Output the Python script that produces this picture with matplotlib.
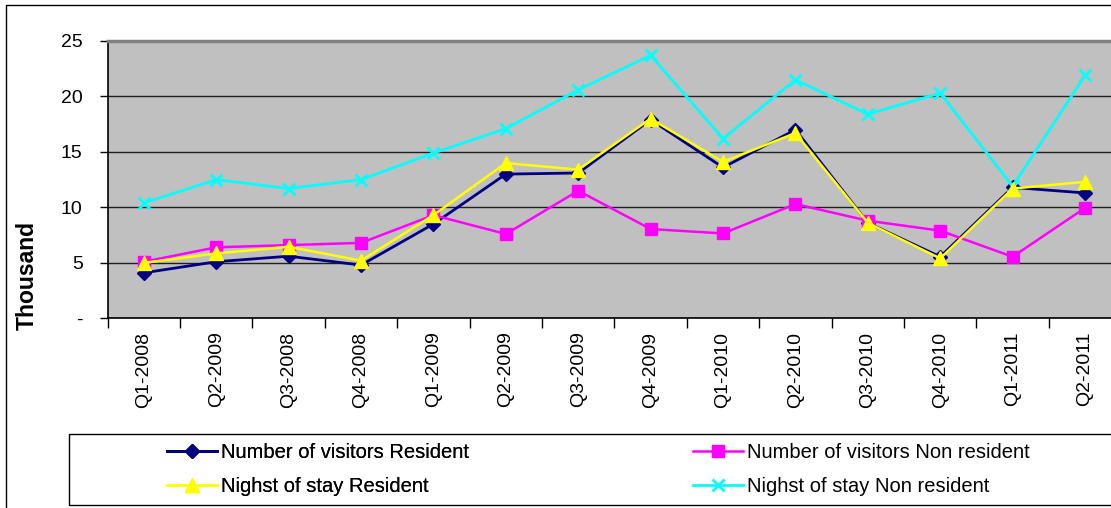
import matplotlib
matplotlib.use('Agg')
import matplotlib.pyplot as plt
from matplotlib.patches import Rectangle
import numpy as np

plt.rcParams['font.family'] = ['Liberation Sans', 'DejaVu Sans']

quarters = ['Q1-2008', 'Q2-2009', 'Q3-2008', 'Q4-2008', 'Q1-2009', 'Q2-2009', 'Q3-2009',
            'Q4-2009', 'Q1-2010', 'Q2-2010', 'Q3-2010', 'Q4-2010', 'Q1-2011', 'Q2-2011']

visitors_resident = [4.1, 5.1, 5.6, 4.8, 8.5, 13.0, 13.1, 17.9, 13.6, 17.0, 8.6, 5.55, 11.8, 11.3]
visitors_non_resident = [5.1, 6.4, 6.6, 6.8, 9.3, 7.6, 11.5, 8.05, 7.65, 10.3, 8.8, 7.9, 5.55, 9.95]
nights_resident = [5.0, 5.85, 6.45, 5.2, 9.3, 14.0, 13.4, 18.0, 14.1, 16.7, 8.6, 5.4, 11.7, 12.3]
nights_non_resident = [10.4, 12.5, 11.7, 12.5, 14.9, 17.1, 20.6, 23.7, 16.2, 21.5, 18.4, 20.3, 11.9, 21.9]

fig = plt.figure(figsize=(11.11, 5.08), dpi=100)
ax = fig.add_axes([0.0969, 0.3734, 0.9123, 0.5459])
ax.set_facecolor('#C0C0C0')

x = np.arange(len(quarters))
l1, = ax.plot(x, visitors_resident, color='#000080', lw=2, marker='D', ms=7, zorder=3)
l2, = ax.plot(x, visitors_non_resident, color='#FF00FF', lw=1.8, marker='s', ms=9, zorder=3)
l3, = ax.plot(x, nights_resident, color='#FFFF00', lw=1.8, marker='^', ms=10, zorder=4)
l4, = ax.plot(x, nights_non_resident, color='#00FFFF', lw=2, marker='x', ms=9, mew=2, zorder=3)

ax.set_xlim(-0.5, len(quarters) - 0.5)
ax.set_ylim(0, 25)
ax.set_yticks([0, 5, 10, 15, 20, 25])
ax.set_yticklabels(['-', '5', '10', '15', '20', '25'], fontsize=14)
ax.yaxis.grid(True, color='#202020', lw=1)
ax.set_axisbelow(True)
ax.tick_params(axis='y', length=6, pad=12, width=1)

ax.set_xticks(x)
ax.set_xticklabels(quarters, rotation=90, fontsize=14)
ax.set_xticks(np.arange(-0.5, len(quarters), 1), minor=True)
ax.tick_params(axis='x', which='major', length=0, pad=9.5)
ax.tick_params(axis='x', which='minor', length=7, width=1)

ax.spines['top'].set_color('#808080')
ax.spines['top'].set_linewidth(2.5)
ax.spines['right'].set_visible(False)
ax.spines['left'].set_linewidth(1.2)
ax.spines['bottom'].set_linewidth(1.2)

fig.text(27 / 1111, 1 - 276 / 508, 'Thousand', rotation=90, fontsize=16.5,
         fontweight='bold', ha='center', va='center')

# chart frame and legend frame
fig.patches.append(Rectangle((6 / 1111, -0.1), 2, 1.1 - 5.5 / 508, fill=False,
                             edgecolor='black', lw=1, transform=fig.transFigure))
fig.patches.append(Rectangle((69 / 1111, 2.7 / 508), 2, 71 / 508, fill=False,
                             edgecolor='black', lw=1, transform=fig.transFigure))

leg_kw = dict(loc='center left', frameon=False, borderpad=0, borderaxespad=0,
              fontsize=14.5, handlelength=2.5, handletextpad=0.2, labelspacing=0.78)
leg1 = fig.legend([l1, l3], ['Number of visitors Resident', 'Nighst of stay Resident'],
                  bbox_to_anchor=(167 / 1111, 1 - 469.5 / 508), **leg_kw)
fig.add_artist(leg1)
fig.legend([l2, l4], ['Number of visitors Non resident', 'Nighst of stay Non resident'],
           bbox_to_anchor=(693 / 1111, 1 - 469.5 / 508), **leg_kw)

fig.savefig('out.png', dpi=100)
